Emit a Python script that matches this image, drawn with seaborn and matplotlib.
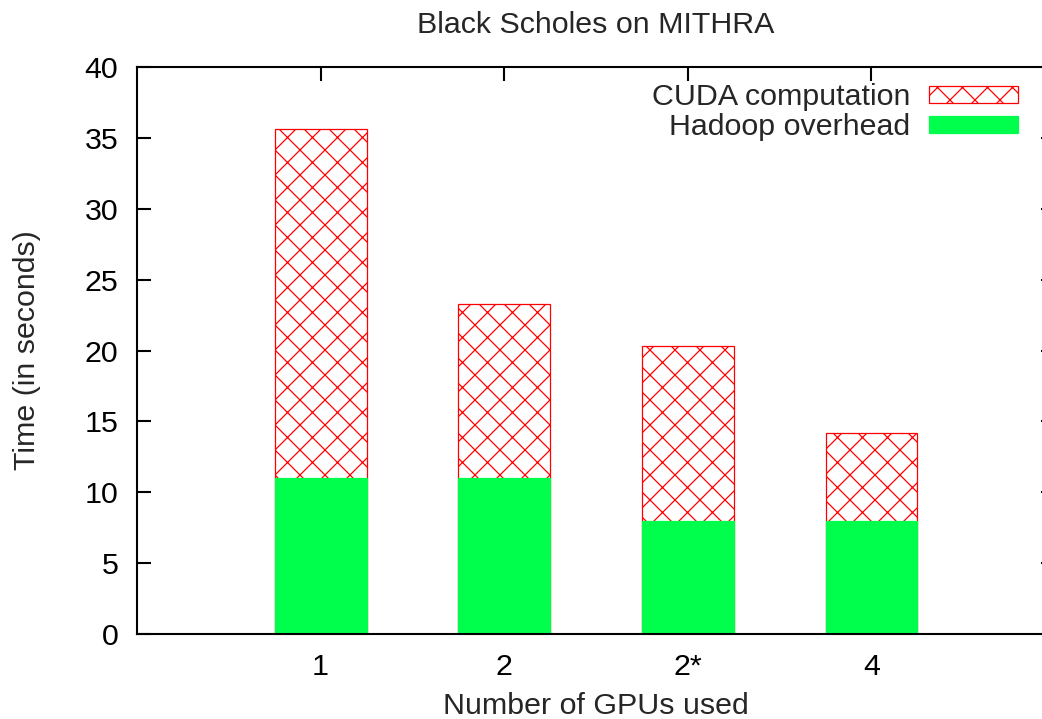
import matplotlib
matplotlib.use("Agg")
import matplotlib.pyplot as plt
import seaborn as sns
import pandas as pd
import numpy as np

gpus = ["1", "2", "2*", "4"]
hadoop_overhead = [11.0, 11.0, 8.0, 8.0]
cuda_computation = [24.6, 12.3, 12.3, 6.2]
y_ticks = [0, 5, 10, 15, 20, 25, 30, 35, 40]

sns.set_theme(style="white")
plt.rcParams["font.family"] = ["Liberation Sans", "DejaVu Sans"]
plt.rcParams["hatch.linewidth"] = 0.6
plt.rcParams["hatch.color"] = "#ff0000"

df = pd.DataFrame({
    "gpus": gpus,
    "hadoop": hadoop_overhead,
    "total": np.array(hadoop_overhead) + np.array(cuda_computation),
})

W, H, DPI = 1042, 719, 150
fig = plt.figure(figsize=(W / DPI, H / DPI), dpi=DPI)
ax = fig.add_axes([137 / W, 1 - 634 / H, (1055 - 137) / W, (634 - 67) / H])

sns.barplot(data=df, x="gpus", y="total", ax=ax, color="white", width=0.5,
            edgecolor="#ff0000", linewidth=0.6, hatch="xx", label="CUDA computation",
            saturation=1)
sns.barplot(data=df, x="gpus", y="hadoop", ax=ax, color="#00ff4c", width=0.5,
            edgecolor="#00ff4c", linewidth=0.6, label="Hadoop overhead",
            saturation=1)

ax.set_xlim(-1, 4)
ax.set_ylim(0, 40)
ax.set_yticks(y_ticks)
ax.set_axisbelow(True)

fs = 14.6
ax.tick_params(axis="both", which="both", direction="in", length=6.5, width=1.0,
               top=True, right=True, bottom=True, left=True, labelsize=fs, pad=9,
               colors="black")
for s in ax.spines.values():
    s.set_visible(True)
    s.set_linewidth(1.0)
    s.set_color("black")

ax.set_title("Black Scholes on MITHRA", fontsize=fs, pad=16.5)
ax.set_xlabel("Number of GPUs used", fontsize=fs, labelpad=5.5)
ax.set_ylabel("Time (in seconds)", fontsize=fs, labelpad=21)

handles, labels = ax.get_legend_handles_labels()
leg = ax.legend(handles, labels, loc="upper right", frameon=False,
                markerfirst=False, fontsize=fs, handlelength=2.93,
                handleheight=0.49, handletextpad=0.62, labelspacing=0.07,
                borderpad=0, borderaxespad=0,
                bbox_to_anchor=(1018 / W, 1 - 83 / H),
                bbox_transform=fig.transFigure)

fig.savefig("out.png", dpi=DPI)
